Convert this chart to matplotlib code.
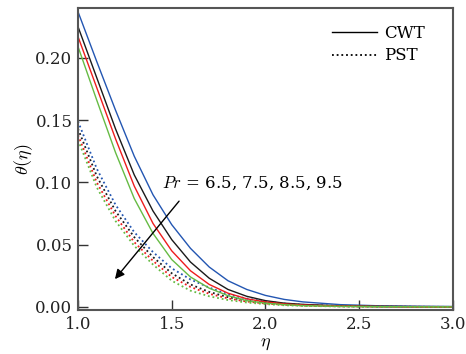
import matplotlib
matplotlib.use("Agg")
import matplotlib.pyplot as plt
from matplotlib.lines import Line2D

plt.rcParams['font.family'] = ['DejaVu Serif']
plt.rcParams['mathtext.fontset'] = 'cm'

eta = [1.0, 1.1, 1.2, 1.3, 1.4, 1.5, 1.6, 1.7, 1.8, 1.9, 2.0, 2.1, 2.2, 2.4, 2.6, 2.8, 3.0]

# CWT (solid) profiles, Pr = 6.5, 7.5, 8.5, 9.5
cwt_pr65 = [0.237, 0.197, 0.158, 0.121, 0.090, 0.066, 0.047, 0.032, 0.021, 0.014, 0.0092, 0.006, 0.004, 0.0018, 0.0009, 0.0005, 0.0003]
cwt_pr75 = [0.225, 0.184, 0.143, 0.106, 0.077, 0.054, 0.036, 0.023, 0.014, 0.0085, 0.005, 0.003, 0.002, 0.0008, 0.0004, 0.0002, 0.0001]
cwt_pr85 = [0.217, 0.176, 0.135, 0.097, 0.067, 0.045, 0.029, 0.018, 0.011, 0.0065, 0.004, 0.0024, 0.0015, 0.0006, 0.0003, 0.0001, 0.0]
cwt_pr95 = [0.209, 0.166, 0.124, 0.087, 0.059, 0.038, 0.024, 0.015, 0.009, 0.005, 0.003, 0.0018, 0.001, 0.0004, 0.0002, 0.0001, 0.0]

# PST (dotted) profiles
pst_pr65 = [0.149, 0.111, 0.082, 0.060, 0.044, 0.031, 0.022, 0.0155, 0.010, 0.0067, 0.0043, 0.0027, 0.0017, 0.0007, 0.0003, 0.0001, 0.0]
pst_pr75 = [0.143, 0.105, 0.077, 0.056, 0.040, 0.027, 0.018, 0.012, 0.0078, 0.005, 0.0032, 0.002, 0.0012, 0.0005, 0.0002, 0.0001, 0.0]
pst_pr85 = [0.138, 0.100, 0.073, 0.052, 0.037, 0.024, 0.016, 0.0105, 0.0068, 0.0043, 0.0027, 0.0017, 0.001, 0.0004, 0.0002, 0.0001, 0.0]
pst_pr95 = [0.134, 0.096, 0.069, 0.049, 0.034, 0.021, 0.013, 0.0085, 0.0055, 0.0035, 0.0022, 0.0013, 0.0008, 0.0003, 0.0001, 0.0, 0.0]

colors = ['#2356b2', '#1a1a1a', '#ee1c1c', '#66bb44']
cwt = [cwt_pr65, cwt_pr75, cwt_pr85, cwt_pr95]
pst = [pst_pr65, pst_pr75, pst_pr85, pst_pr95]

legend_labels = ['CWT', 'PST']
annot_text = '6.5, 7.5, 8.5, 9.5'

fig = plt.figure(figsize=(4.66, 3.54), dpi=100)
ax = fig.add_axes([0.1674, 0.1243, 0.8046, 0.8531])

dotted = (0, (1.0, 1.6))
for c, s, d in zip(colors, cwt, pst):
    ax.plot(eta, s, color=c, lw=1.0, solid_capstyle='butt')
    ax.plot(eta, d, color=c, lw=1.3, linestyle=dotted)

ax.set_xlim(1.0, 3.0)
ax.set_ylim(-0.0025, 0.240)
ax.set_xticks([1.0, 1.5, 2.0, 2.5, 3.0])
ax.set_xticklabels(['1.0', '1.5', '2.0', '2.5', '3.0'])
ax.set_yticks([0.0, 0.05, 0.10, 0.15, 0.20])
ax.set_yticklabels(['0.00', '0.05', '0.10', '0.15', '0.20'])
ax.tick_params(direction='in', length=7, width=1.0, labelsize=12, colors='#333333',
               labelcolor='#222222', pad=4, top=False, right=False)
for sp in ax.spines.values():
    sp.set_linewidth(1.5)
    sp.set_color('#555555')

ax.set_xlabel(r'$\eta$', fontsize=13, labelpad=1)
ax.set_ylabel(r'$\theta(\eta)$', fontsize=13, labelpad=0)

handles = [Line2D([], [], color='black', lw=1.0),
           Line2D([], [], color='black', lw=1.3, linestyle=dotted)]
leg = ax.legend(handles, legend_labels, loc='upper right', frameon=False, fontsize=12,
                handlelength=2.7, handletextpad=0.4, labelspacing=0.35,
                bbox_to_anchor=(0.965, 0.995))

ax.text(1.447, 0.099, r'$Pr$' + ' = ' + annot_text, fontsize=12, va='center', ha='left')
ax.annotate('', xy=(1.197, 0.0223), xytext=(1.539, 0.0849),
            arrowprops=dict(arrowstyle='-|>', color='black', lw=1.0,
                            mutation_scale=14, shrinkA=0, shrinkB=0))

fig.savefig('out.png', dpi=100)
